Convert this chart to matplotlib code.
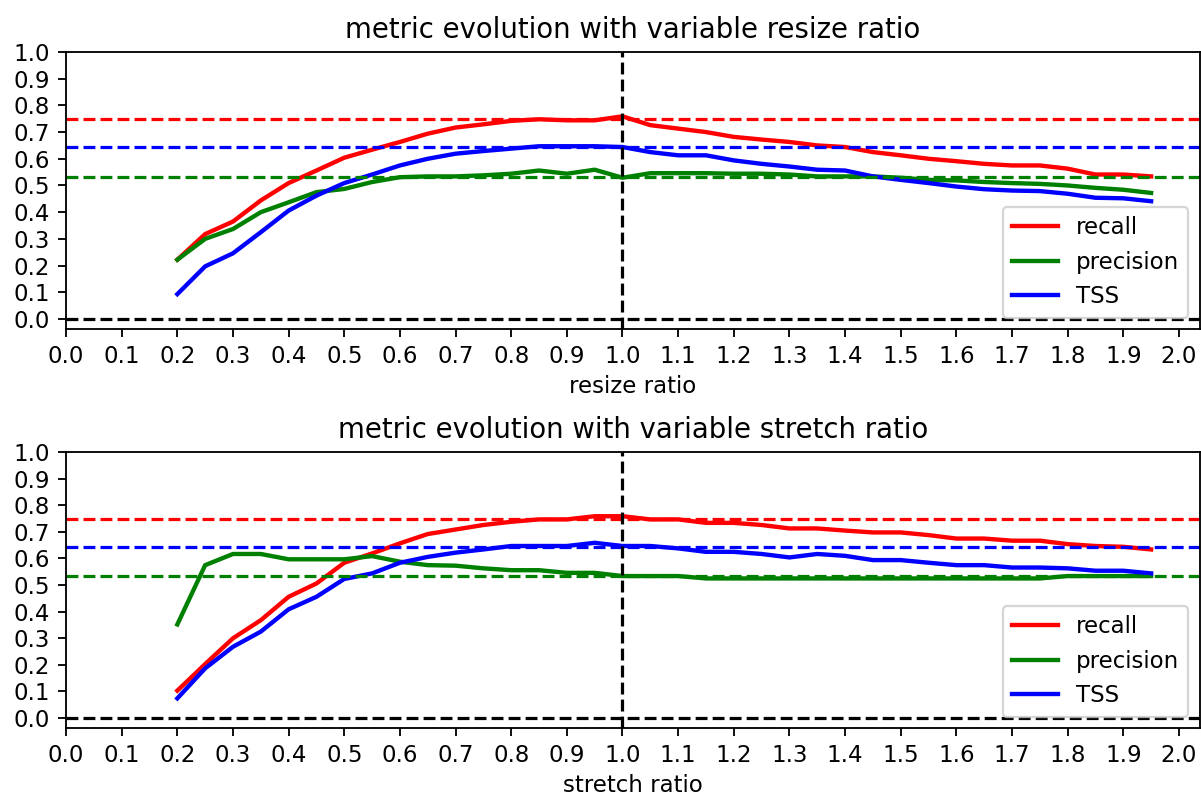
import numpy as np
import matplotlib
matplotlib.use("Agg")
import matplotlib.pyplot as plt

ratios = [0.2, 0.25, 0.3, 0.35, 0.4, 0.45, 0.5, 0.55, 0.6, 0.65, 0.7, 0.75,
          0.8, 0.85, 0.9, 0.95, 1.0, 1.05, 1.1, 1.15, 1.2, 1.25, 1.3, 1.35,
          1.4, 1.45, 1.5, 1.55, 1.6, 1.65, 1.7, 1.75, 1.8, 1.85, 1.9, 1.95]

resize_recall = [0.222, 0.318, 0.365, 0.444, 0.509, 0.556, 0.604, 0.634, 0.663, 0.694, 0.717, 0.729,
                 0.742, 0.748, 0.744, 0.744, 0.759, 0.726, 0.713, 0.700, 0.682, 0.672, 0.663, 0.650,
                 0.644, 0.625, 0.613, 0.600, 0.591, 0.581, 0.575, 0.575, 0.563, 0.541, 0.541, 0.534]
resize_precision = [0.222, 0.300, 0.337, 0.400, 0.437, 0.475, 0.487, 0.513, 0.531, 0.534, 0.534, 0.538,
                    0.544, 0.556, 0.544, 0.559, 0.529, 0.546, 0.546, 0.546, 0.544, 0.544, 0.541, 0.534,
                    0.534, 0.534, 0.529, 0.521, 0.519, 0.513, 0.509, 0.506, 0.500, 0.491, 0.484, 0.472]
resize_tss = [0.093, 0.197, 0.246, 0.325, 0.406, 0.462, 0.509, 0.541, 0.575, 0.600, 0.619, 0.629,
              0.638, 0.647, 0.647, 0.647, 0.644, 0.625, 0.613, 0.613, 0.594, 0.581, 0.571, 0.559,
              0.556, 0.534, 0.521, 0.509, 0.496, 0.486, 0.481, 0.479, 0.469, 0.454, 0.452, 0.441]

stretch_recall = [0.103, 0.203, 0.300, 0.368, 0.456, 0.506, 0.584, 0.619, 0.657, 0.692, 0.709, 0.726,
                  0.738, 0.747, 0.747, 0.759, 0.759, 0.747, 0.747, 0.734, 0.734, 0.726, 0.713, 0.713,
                  0.705, 0.698, 0.698, 0.688, 0.675, 0.675, 0.667, 0.667, 0.654, 0.647, 0.644, 0.634]
stretch_precision = [0.352, 0.575, 0.617, 0.617, 0.597, 0.597, 0.597, 0.609, 0.588, 0.575, 0.573, 0.563,
                     0.556, 0.556, 0.546, 0.546, 0.534, 0.534, 0.534, 0.525, 0.525, 0.525, 0.525, 0.525,
                     0.525, 0.525, 0.525, 0.525, 0.525, 0.525, 0.525, 0.525, 0.534, 0.534, 0.534, 0.534]
stretch_tss = [0.074, 0.187, 0.268, 0.325, 0.409, 0.456, 0.523, 0.544, 0.584, 0.606, 0.622, 0.634,
               0.647, 0.647, 0.647, 0.659, 0.647, 0.647, 0.638, 0.625, 0.625, 0.617, 0.604, 0.617,
               0.610, 0.594, 0.594, 0.584, 0.575, 0.575, 0.566, 0.566, 0.563, 0.554, 0.554, 0.544]

ref_recall = 0.75
ref_tss = 0.645
ref_precision = 0.533

xticks = np.round(np.arange(0, 2.01, 0.1), 1)
yticks = np.round(np.arange(0, 1.01, 0.1), 1)

DPI = 165
fig = plt.figure(figsize=(1201 / DPI, 796 / DPI), dpi=DPI)
ax1 = fig.add_axes([0.055, 0.5867, 0.944, 0.348])
ax2 = fig.add_axes([0.055, 0.0854, 0.944, 0.3466])

panels = [
    (ax1, resize_recall, resize_precision, resize_tss,
     "metric evolution with variable resize ratio", "resize ratio"),
    (ax2, stretch_recall, stretch_precision, stretch_tss,
     "metric evolution with variable stretch ratio", "stretch ratio"),
]

for ax, rec, prec, tss, title, xlabel in panels:
    ax.plot(ratios, rec, color="red", lw=1.9, label="recall")
    ax.plot(ratios, prec, color="green", lw=1.9, label="precision")
    ax.plot(ratios, tss, color="blue", lw=1.9, label="TSS")
    ax.axhline(ref_recall, color="red", ls="--", lw=1.4)
    ax.axhline(ref_tss, color="blue", ls="--", lw=1.4)
    ax.axhline(ref_precision, color="green", ls="--", lw=1.4)
    ax.axhline(0, color="black", ls="--", lw=1.4)
    ax.axvline(1.0, color="black", ls="--", lw=1.4)
    ax.set_xticks(xticks)
    ax.set_yticks(yticks)
    ax.set_xlim(0, 2.0375)
    ax.set_ylim(-0.0375, 1.0)
    ax.set_title(title)
    ax.set_xlabel(xlabel, labelpad=3.2)
    ax.legend(loc="lower right")

fig.savefig("out.png", dpi=DPI)
